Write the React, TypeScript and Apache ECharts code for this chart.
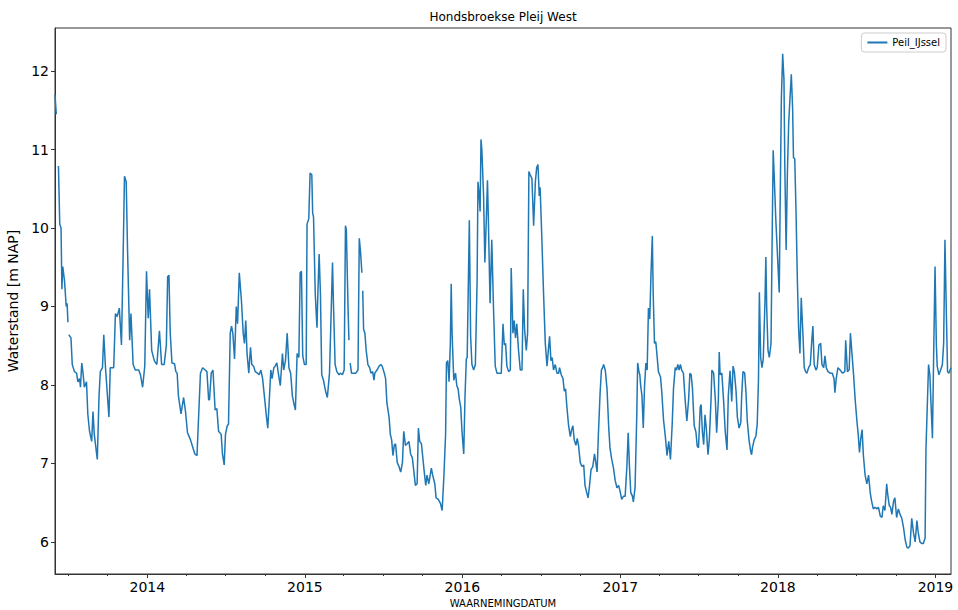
import React, { useEffect, useRef } from 'react';
import * as echarts from 'echarts';

type Pt = [string, number | null];

const chartTitle = 'Hondsbroekse Pleij West';
const seriesName = 'Peil_IJssel';
const yAxisName = 'Waterstand [m NAP]';
const xAxisName = 'WAARNEMINGDATUM';

const yearTicks = ['2014-01-01', '2015-01-01', '2016-01-01', '2017-01-01', '2018-01-01', '2019-01-01'];
const quarterTicks = [
  '2013-07-01', '2013-10-01',
  '2014-04-01', '2014-07-01', '2014-10-01',
  '2015-04-01', '2015-07-01', '2015-10-01',
  '2016-04-01', '2016-07-01', '2016-10-01',
  '2017-04-01', '2017-07-01', '2017-10-01',
  '2018-04-01', '2018-07-01', '2018-10-01',
];
const yTicks = [6, 7, 8, 9, 10, 11, 12];
const yMin = 5.59;
const yMax = 12.55;

const peil2013: Pt[] = [
  ['2013-06-01', 11.7], ['2013-06-04', 11.45], ['2013-06-06', null], ['2013-06-09', 10.79], ['2013-06-12', 10.05],
  ['2013-06-15', 10.0], ['2013-06-17', 9.22], ['2013-06-19', 9.51], ['2013-06-23', 9.33], ['2013-06-27', 9.0],
  ['2013-06-29', 9.04], ['2013-07-01', 8.8], ['2013-07-02', null], ['2013-07-03', 8.64], ['2013-07-08', 8.6],
  ['2013-07-11', 8.26], ['2013-07-16', 8.17], ['2013-07-21', 8.15], ['2013-07-24', 8.04], ['2013-07-28', 8.08],
  ['2013-07-30', 7.97], ['2013-08-02', 8.28], ['2013-08-05', 8.15], ['2013-08-08', 7.97], ['2013-08-13', 8.04],
  ['2013-08-16', 7.63], ['2013-08-20', 7.41], ['2013-08-25', 7.28], ['2013-08-28', 7.66], ['2013-08-31', 7.37],
  ['2013-09-07', 7.05], ['2013-09-11', 7.86], ['2013-09-14', 8.17], ['2013-09-19', 8.22], ['2013-09-22', 8.64],
  ['2013-09-26', 8.22], ['2013-09-30', 7.9], ['2013-10-04', 7.59], ['2013-10-07', 8.22], ['2013-10-15', 8.22],
  ['2013-10-19', 8.91], ['2013-10-23', 8.87], ['2013-10-28', 8.98], ['2013-11-02', 8.51], ['2013-11-06', 9.69],
  ['2013-11-09', 10.66], ['2013-11-13', 10.59], ['2013-11-16', 9.74], ['2013-11-21', 8.57], ['2013-11-24', 8.91],
  ['2013-11-29', 8.26], ['2013-12-04', 8.19], ['2013-12-12', 8.19], ['2013-12-16', 8.13], ['2013-12-21', 7.97],
  ['2013-12-26', 8.24], ['2013-12-30', 9.45],
];

const peil2014: Pt[] = [
  ['2014-01-03', 8.85], ['2014-01-06', 9.22], ['2014-01-11', 8.44], ['2014-01-17', 8.31], ['2014-01-23', 8.26],
  ['2014-01-29', 8.69], ['2014-02-03', 8.26], ['2014-02-09', 8.26], ['2014-02-14', 8.51], ['2014-02-17', 9.38],
  ['2014-02-20', 9.4], ['2014-02-23', 8.66], ['2014-02-27', 8.28], ['2014-03-05', 8.27], ['2014-03-08', 8.17],
  ['2014-03-11', 8.15], ['2014-03-14', 7.86], ['2014-03-20', 7.63], ['2014-03-26', 7.84], ['2014-03-30', 7.68],
  ['2014-04-04', 7.39], ['2014-04-11', 7.3], ['2014-04-16', 7.21], ['2014-04-21', 7.12], ['2014-04-26', 7.1],
  ['2014-04-30', 7.63], ['2014-05-04', 8.15], ['2014-05-09', 8.22], ['2014-05-15', 8.19], ['2014-05-19', 8.17],
  ['2014-05-23', 7.81], ['2014-05-25', 7.81], ['2014-05-29', 8.15], ['2014-06-02', 8.19], ['2014-06-07', 7.68],
  ['2014-06-11', 7.7], ['2014-06-15', 7.41], ['2014-06-21', 7.37], ['2014-06-24', 7.12], ['2014-06-28', 6.98],
  ['2014-07-01', 7.37], ['2014-07-05', 7.48], ['2014-07-08', 7.5], ['2014-07-12', 8.66], ['2014-07-15', 8.75],
  ['2014-07-18', 8.66], ['2014-07-22', 8.33], ['2014-07-26', 9.0], ['2014-07-29', 8.78], ['2014-08-02', 9.43],
  ['2014-08-07', 9.07], ['2014-08-11', 8.66], ['2014-08-14', 8.53], ['2014-08-17', 8.82], ['2014-08-20', 8.4],
  ['2014-08-24', 8.15], ['2014-08-28', 8.48], ['2014-08-31', 8.26], ['2014-09-04', 8.24], ['2014-09-08', 8.17],
  ['2014-09-13', 8.15], ['2014-09-17', 8.13], ['2014-09-21', 8.19], ['2014-09-25', 8.08], ['2014-09-30', 7.81],
  ['2014-10-04', 7.59], ['2014-10-07', 7.45], ['2014-10-11', 7.86], ['2014-10-14', 8.19], ['2014-10-17', 8.08],
  ['2014-10-21', 8.22], ['2014-10-24', 8.24], ['2014-10-28', 8.28], ['2014-11-01', 8.13], ['2014-11-05', 7.99],
  ['2014-11-10', 8.4], ['2014-11-13', 8.19], ['2014-11-17', 8.31], ['2014-11-21', 8.66], ['2014-11-25', 8.22],
  ['2014-11-29', 8.15], ['2014-12-03', 7.86], ['2014-12-07', 7.75], ['2014-12-10', 7.68], ['2014-12-14', 8.4],
  ['2014-12-18', 8.35], ['2014-12-21', 9.43], ['2014-12-24', 9.45], ['2014-12-27', 8.37], ['2014-12-31', 8.26],
];

const peil2015: Pt[] = [
  ['2015-01-04', 8.26], ['2015-01-06', 10.05], ['2015-01-10', 10.12], ['2015-01-13', 10.7], ['2015-01-17', 10.68],
  ['2015-01-19', 10.19], ['2015-01-21', 10.14], ['2015-01-25', 9.16], ['2015-01-29', 8.73], ['2015-01-31', 9.16],
  ['2015-02-03', 9.67], ['2015-02-06', 9.16], ['2015-02-09', 8.13], ['2015-02-13', 8.06], ['2015-02-18', 7.92],
  ['2015-02-22', 7.84], ['2015-02-27', 8.15], ['2015-03-02', 8.75], ['2015-03-06', 9.56], ['2015-03-08', 9.07],
  ['2015-03-12', 8.26], ['2015-03-16', 8.17], ['2015-03-21', 8.13], ['2015-03-24', 8.15], ['2015-03-29', 8.13],
  ['2015-04-02', 8.19], ['2015-04-05', 10.03], ['2015-04-07', 9.98], ['2015-04-11', 8.98], ['2015-04-13', 8.57],
  ['2015-04-14', null], ['2015-04-16', 8.28], ['2015-04-19', 8.15], ['2015-04-24', 8.15], ['2015-04-29', 8.15],
  ['2015-05-04', 8.19], ['2015-05-07', 9.87], ['2015-05-10', 9.69], ['2015-05-13', 9.43], ['2015-05-14', null],
  ['2015-05-15', 9.2], ['2015-05-17', 8.71], ['2015-05-20', 8.66], ['2015-05-23', 8.44], ['2015-05-27', 8.26],
  ['2015-05-31', 8.22], ['2015-06-03', 8.15], ['2015-06-07', 8.17], ['2015-06-10', 8.06], ['2015-06-12', 8.15],
  ['2015-06-17', 8.19], ['2015-06-22', 8.24], ['2015-06-26', 8.26], ['2015-06-29', 8.24], ['2015-07-04', 8.15],
  ['2015-07-07', 8.08], ['2015-07-10', 7.77], ['2015-07-15', 7.59], ['2015-07-18', 7.37], ['2015-07-21', 7.3],
  ['2015-07-24', 7.1], ['2015-07-27', 7.23], ['2015-07-30', 7.25], ['2015-08-03', 7.01], ['2015-08-07', 6.96],
  ['2015-08-11', 6.89], ['2015-08-15', 7.01], ['2015-08-18', 7.41], ['2015-08-22', 7.23], ['2015-08-26', 7.25],
  ['2015-08-30', 7.28], ['2015-09-03', 7.12], ['2015-09-07', 7.07], ['2015-09-10', 6.92], ['2015-09-14', 6.72],
  ['2015-09-18', 6.74], ['2015-09-21', 7.45], ['2015-09-24', 7.28], ['2015-09-28', 7.25], ['2015-10-04', 6.92],
  ['2015-10-08', 6.72], ['2015-10-11', 6.85], ['2015-10-15', 6.74], ['2015-10-21', 6.94], ['2015-10-24', 6.85],
  ['2015-10-29', 6.74], ['2015-11-01', 6.56], ['2015-11-06', 6.54], ['2015-11-11', 6.49], ['2015-11-15', 6.4],
  ['2015-11-19', 6.83], ['2015-11-23', 7.37], ['2015-11-25', 8.28], ['2015-11-28', 8.31], ['2015-12-01', 8.04],
  ['2015-12-04', 8.53], ['2015-12-06', 9.29], ['2015-12-08', 8.66], ['2015-12-12', 8.06], ['2015-12-16', 8.15],
  ['2015-12-19', 7.99], ['2015-12-22', 7.95], ['2015-12-25', 7.81], ['2015-12-28', 7.72], ['2015-12-31', 7.41],
];

const peil2016: Pt[] = [
  ['2016-01-04', 7.12], ['2016-01-07', 7.86], ['2016-01-10', 8.33], ['2016-01-12', 8.35], ['2016-01-17', 10.1],
  ['2016-01-20', 8.62], ['2016-01-23', 8.26], ['2016-01-27', 8.19], ['2016-01-31', 8.26], ['2016-02-04', 9.33],
  ['2016-02-06', 10.59], ['2016-02-09', 10.41], ['2016-02-11', 10.21], ['2016-02-13', 11.13], ['2016-02-15', 11.0],
  ['2016-02-19', 10.41], ['2016-02-22', 9.56], ['2016-02-25', 10.05], ['2016-02-28', 10.61], ['2016-03-01', 10.14],
  ['2016-03-05', 9.04], ['2016-03-09', 9.85], ['2016-03-13', 8.98], ['2016-03-17', 8.24], ['2016-03-21', 8.15],
  ['2016-03-26', 8.15], ['2016-03-31', 8.15], ['2016-04-04', 8.78], ['2016-04-07', 8.51], ['2016-04-10', 8.53],
  ['2016-04-13', 8.24], ['2016-04-17', 8.17], ['2016-04-21', 8.19], ['2016-04-23', 9.49], ['2016-04-27', 8.66],
  ['2016-04-30', 8.82], ['2016-05-03', 8.6], ['2016-05-06', 8.78], ['2016-05-10', 8.44], ['2016-05-14', 8.19],
  ['2016-05-18', 8.19], ['2016-05-21', 9.22], ['2016-05-24', 8.71], ['2016-05-28', 8.44], ['2016-05-31', 8.66],
  ['2016-06-03', 10.72], ['2016-06-06', 10.68], ['2016-06-10', 10.63], ['2016-06-14', 10.03], ['2016-06-18', 10.59],
  ['2016-06-21', 10.77], ['2016-06-24', 10.81], ['2016-06-27', 10.41], ['2016-06-29', 10.52], ['2016-07-03', 9.87],
  ['2016-07-07', 9.16], ['2016-07-11', 8.53], ['2016-07-15', 8.24], ['2016-07-18', 8.44], ['2016-07-21', 8.62],
  ['2016-07-24', 8.31], ['2016-07-27', 8.35], ['2016-07-30', 8.19], ['2016-08-03', 8.26], ['2016-08-07', 8.15],
  ['2016-08-11', 8.15], ['2016-08-13', 8.22], ['2016-08-17', 8.13], ['2016-08-21', 8.08], ['2016-08-24', 7.92],
  ['2016-08-27', 7.95], ['2016-08-30', 7.72], ['2016-09-03', 7.48], ['2016-09-07', 7.34], ['2016-09-10', 7.43],
  ['2016-09-13', 7.48], ['2016-09-16', 7.3], ['2016-09-20', 7.23], ['2016-09-23', 7.32], ['2016-09-26', 7.23],
  ['2016-09-30', 7.01], ['2016-10-04', 6.96], ['2016-10-08', 6.98], ['2016-10-11', 6.72], ['2016-10-14', 6.65],
  ['2016-10-18', 6.56], ['2016-10-21', 6.69], ['2016-10-25', 6.92], ['2016-10-29', 6.96], ['2016-11-02', 7.12],
  ['2016-11-05', 7.01], ['2016-11-08', 6.89], ['2016-11-11', 7.37], ['2016-11-15', 7.9], ['2016-11-18', 8.19],
  ['2016-11-21', 8.22], ['2016-11-23', 8.26], ['2016-11-27', 8.19], ['2016-12-01', 7.95], ['2016-12-05', 7.45],
  ['2016-12-08', 7.19], ['2016-12-12', 7.05], ['2016-12-16', 6.94], ['2016-12-20', 6.78], ['2016-12-24', 6.69],
  ['2016-12-28', 6.72], ['2016-12-31', 6.65],
];

const peil2017: Pt[] = [
  ['2017-01-04', 6.54], ['2017-01-08', 6.58], ['2017-01-12', 6.58], ['2017-01-16', 6.96], ['2017-01-19', 7.39],
  ['2017-01-22', 6.96], ['2017-01-25', 6.63], ['2017-01-29', 6.58], ['2017-01-31', 6.51], ['2017-02-04', 6.69],
  ['2017-02-08', 7.63], ['2017-02-10', 8.28], ['2017-02-13', 8.17], ['2017-02-15', 8.13], ['2017-02-17', 7.99],
  ['2017-02-20', 7.86], ['2017-02-23', 7.45], ['2017-02-26', 7.99], ['2017-03-01', 8.28], ['2017-03-04', 8.19],
  ['2017-03-07', 8.98], ['2017-03-10', 8.84], ['2017-03-13', 9.43], ['2017-03-16', 9.9], ['2017-03-18', 9.16],
  ['2017-03-21', 8.53], ['2017-03-24', 8.55], ['2017-03-27', 8.37], ['2017-03-30', 8.17], ['2017-04-04', 8.1],
  ['2017-04-07', 7.9], ['2017-04-11', 7.55], ['2017-04-15', 7.35], ['2017-04-19', 7.1], ['2017-04-23', 7.28],
  ['2017-04-27', 7.05], ['2017-05-01', 7.5], ['2017-05-04', 7.95], ['2017-05-08', 8.22], ['2017-05-11', 8.19],
  ['2017-05-14', 8.26], ['2017-05-17', 8.19], ['2017-05-20', 8.26], ['2017-05-23', 8.19], ['2017-05-27', 8.15],
  ['2017-05-31', 7.81], ['2017-06-04', 7.54], ['2017-06-08', 7.81], ['2017-06-11', 8.15], ['2017-06-14', 8.13],
  ['2017-06-17', 7.95], ['2017-06-21', 7.48], ['2017-06-25', 7.4], ['2017-06-28', 7.22], ['2017-07-01', 7.2],
  ['2017-07-05', 7.72], ['2017-07-07', 7.75], ['2017-07-10', 7.4], ['2017-07-13', 7.24], ['2017-07-16', 7.62],
  ['2017-07-19', 7.45], ['2017-07-23', 7.11], ['2017-07-26', 7.3], ['2017-07-30', 7.81], ['2017-08-01', 8.19],
  ['2017-08-05', 8.15], ['2017-08-09', 7.81], ['2017-08-12', 7.39], ['2017-08-16', 7.81], ['2017-08-18', 8.42],
  ['2017-08-20', 8.13], ['2017-08-24', 8.15], ['2017-08-28', 7.81], ['2017-09-01', 7.4], ['2017-09-05', 7.17],
  ['2017-09-08', 7.86], ['2017-09-12', 8.18], ['2017-09-16', 7.79], ['2017-09-19', 8.24], ['2017-09-22', 8.17],
  ['2017-09-26', 7.92], ['2017-09-29', 7.59], ['2017-10-03', 7.45], ['2017-10-07', 7.52], ['2017-10-09', 7.86],
  ['2017-10-12', 8.17], ['2017-10-16', 8.15], ['2017-10-19', 7.9], ['2017-10-22', 7.54], ['2017-10-26', 7.3],
  ['2017-10-30', 7.15], ['2017-11-01', 7.11], ['2017-11-03', 7.2], ['2017-11-07', 7.3], ['2017-11-11', 7.35],
  ['2017-11-14', 7.5], ['2017-11-17', 8.08], ['2017-11-19', 9.18], ['2017-11-22', 8.35], ['2017-11-25', 8.22],
  ['2017-11-28', 8.33], ['2017-12-02', 9.07], ['2017-12-04', 9.63], ['2017-12-06', 8.98], ['2017-12-09', 8.44],
  ['2017-12-12', 8.35], ['2017-12-16', 8.53], ['2017-12-19', 10.05], ['2017-12-21', 10.99], ['2017-12-23', 10.72],
  ['2017-12-27', 10.12], ['2017-12-31', 9.65],
];

const peil2018: Pt[] = [
  ['2018-01-04', 9.18], ['2018-01-06', 10.23], ['2018-01-09', 11.66], ['2018-01-12', 12.22], ['2018-01-15', 11.89],
  ['2018-01-17', 10.77], ['2018-01-20', 9.72], ['2018-01-23', 10.72], ['2018-01-26', 11.35], ['2018-01-29', 11.66],
  ['2018-02-01', 11.96], ['2018-02-04', 11.53], ['2018-02-06', 10.9], ['2018-02-09', 10.88], ['2018-02-12', 10.19],
  ['2018-02-15', 9.34], ['2018-02-18', 8.71], ['2018-02-21', 8.4], ['2018-02-24', 9.11], ['2018-02-28', 8.64],
  ['2018-03-03', 8.22], ['2018-03-06', 8.17], ['2018-03-09', 8.15], ['2018-03-13', 8.22], ['2018-03-17', 8.26],
  ['2018-03-20', 8.53], ['2018-03-23', 8.75], ['2018-03-26', 8.26], ['2018-03-30', 8.19], ['2018-04-02', 8.22],
  ['2018-04-06', 8.51], ['2018-04-10', 8.53], ['2018-04-13', 8.26], ['2018-04-17', 8.22], ['2018-04-20', 8.37],
  ['2018-04-23', 8.22], ['2018-04-27', 8.17], ['2018-05-02', 8.15], ['2018-05-07', 8.15], ['2018-05-11', 8.08],
  ['2018-05-13', 7.9], ['2018-05-16', 8.08], ['2018-05-20', 8.22], ['2018-05-25', 8.19], ['2018-05-31', 8.15],
  ['2018-06-05', 8.17], ['2018-06-07', 8.57], ['2018-06-11', 8.17], ['2018-06-15', 8.19], ['2018-06-18', 8.66],
  ['2018-06-21', 8.44], ['2018-06-25', 8.15], ['2018-06-29', 7.81], ['2018-07-03', 7.54], ['2018-07-06', 7.37],
  ['2018-07-09', 7.14], ['2018-07-12', 7.32], ['2018-07-15', 7.43], ['2018-07-18', 7.1], ['2018-07-22', 6.85],
  ['2018-07-26', 6.74], ['2018-07-30', 6.85], ['2018-08-03', 6.62], ['2018-08-06', 6.52], ['2018-08-10', 6.42],
  ['2018-08-14', 6.44], ['2018-08-18', 6.42], ['2018-08-22', 6.44], ['2018-08-26', 6.33], ['2018-08-30', 6.31],
  ['2018-09-02', 6.46], ['2018-09-06', 6.4], ['2018-09-10', 6.74], ['2018-09-12', 6.62], ['2018-09-16', 6.46],
  ['2018-09-19', 6.44], ['2018-09-22', 6.35], ['2018-09-26', 6.52], ['2018-09-29', 6.56], ['2018-10-03', 6.31],
  ['2018-10-07', 6.42], ['2018-10-11', 6.35], ['2018-10-15', 6.3], ['2018-10-19', 6.18], ['2018-10-23', 6.02],
  ['2018-10-27', 5.93], ['2018-10-30', 5.92], ['2018-11-03', 5.95], ['2018-11-07', 6.3], ['2018-11-11', 6.12],
  ['2018-11-15', 6.0], ['2018-11-19', 6.27], ['2018-11-22', 6.12], ['2018-11-26', 6.0], ['2018-11-30', 5.98],
  ['2018-12-04', 5.98], ['2018-12-08', 6.05], ['2018-12-10', 7.19], ['2018-12-13', 7.72], ['2018-12-16', 8.26],
  ['2018-12-19', 8.13], ['2018-12-22', 7.72], ['2018-12-25', 7.32], ['2018-12-27', 8.08], ['2018-12-31', 9.51],
];

const peil2019: Pt[] = [
  ['2019-01-03', 8.53], ['2019-01-05', 8.24], ['2019-01-09', 8.13], ['2019-01-13', 8.19], ['2019-01-17', 8.26],
  ['2019-01-20', 8.53], ['2019-01-23', 9.85], ['2019-01-26', 8.98], ['2019-01-29', 8.17], ['2019-02-01', 8.15],
  ['2019-02-06', 8.22],
];

const allPoints: Pt[] = [...peil2013, ...peil2014, ...peil2015, ...peil2016, ...peil2017, ...peil2018, ...peil2019];

function toTime(s: string): number {
  const [y, m, d] = s.split('-').map(Number);
  return Date.UTC(y, m - 1, d);
}

export default function App() {
  const ref = useRef<HTMLDivElement>(null);

  useEffect(() => {
    if (!ref.current) return;
    const chart = echarts.init(ref.current, undefined, { renderer: 'svg' });
    const data = allPoints.map(([d, v]) => [toTime(d), v]);
    const tMin = toTime(allPoints[0][0]);
    const tMax = toTime(allPoints[allPoints.length - 1][0]);
    const yearTs = yearTicks.map(toTime);
    const quarterTs = quarterTicks.map(toTime);
    const axisColor = '#333333';
    const font = 'DejaVu Sans';

    chart.setOption({
      animation: false,
      textStyle: { fontFamily: font },
      title: {
        text: chartTitle,
        left: 503,
        top: 11,
        textAlign: 'center',
        padding: 0,
        textStyle: { fontSize: 12, fontWeight: 'normal', color: '#000', fontFamily: font },
      },
      legend: {
        data: [{ name: seriesName, icon: 'rect' }],
        right: 12,
        top: 33,
        itemWidth: 20,
        itemHeight: 2,
        padding: [4, 6, 4, 6],
        borderColor: '#cccccc',
        borderWidth: 1,
        borderRadius: 3,
        backgroundColor: 'rgba(255,255,255,0.8)',
        textStyle: { fontSize: 10, color: '#000', fontFamily: font, lineHeight: 11 },
      },
      grid: {
        left: 55,
        top: 28,
        width: 896,
        height: 546,
        show: true,
        borderColor: axisColor,
        borderWidth: 1,
        backgroundColor: '#ffffff',
        outerBoundsMode: 'none',
        containLabel: false,
      },
      xAxis: [
        {
          type: 'value',
          min: tMin,
          max: tMax,
          axisLine: { show: true, lineStyle: { color: axisColor, width: 1 } },
          axisTick: { show: true, length: 4, customValues: yearTs, lineStyle: { color: axisColor } },
          axisLabel: {
            customValues: yearTs,
            formatter: (v: number) => String(new Date(v).getUTCFullYear()),
            fontSize: 14,
            color: '#000',
            margin: 6,
            fontFamily: font,
          },
          splitLine: { show: false },
          name: xAxisName,
          nameLocation: 'middle',
          nameGap: 23,
          nameTextStyle: { fontSize: 10, color: '#000', fontFamily: font },
        },
        {
          type: 'value',
          min: tMin,
          max: tMax,
          position: 'bottom',
          axisLine: { show: false },
          axisTick: { show: true, length: 2, customValues: quarterTs, lineStyle: { color: axisColor } },
          axisLabel: { show: false },
          splitLine: { show: false },
        },
      ],
      yAxis: {
        type: 'value',
        min: yMin,
        max: yMax,
        axisLine: { show: true, lineStyle: { color: axisColor, width: 1 } },
        axisTick: { show: true, length: 4, customValues: yTicks, lineStyle: { color: axisColor } },
        axisLabel: { customValues: yTicks, fontSize: 14, color: '#000', margin: 6, fontFamily: font },
        splitLine: { show: false },
        name: yAxisName,
        nameLocation: 'middle',
        nameRotate: 90,
        nameGap: 26,
        nameTextStyle: { fontSize: 14, color: '#000', fontFamily: font },
      },
      series: [
        {
          type: 'line',
          name: seriesName,
          xAxisIndex: 0,
          data,
          symbol: 'none',
          showSymbol: false,
          connectNulls: false,
          lineStyle: { width: 1.5, color: '#1f77b4' },
          itemStyle: { color: '#1f77b4' },
        },
      ],
    });

    return () => chart.dispose();
  }, []);

  return <div ref={ref} style={{ position: 'absolute', left: 0, top: 0, width: 958, height: 610 }} />;
}
